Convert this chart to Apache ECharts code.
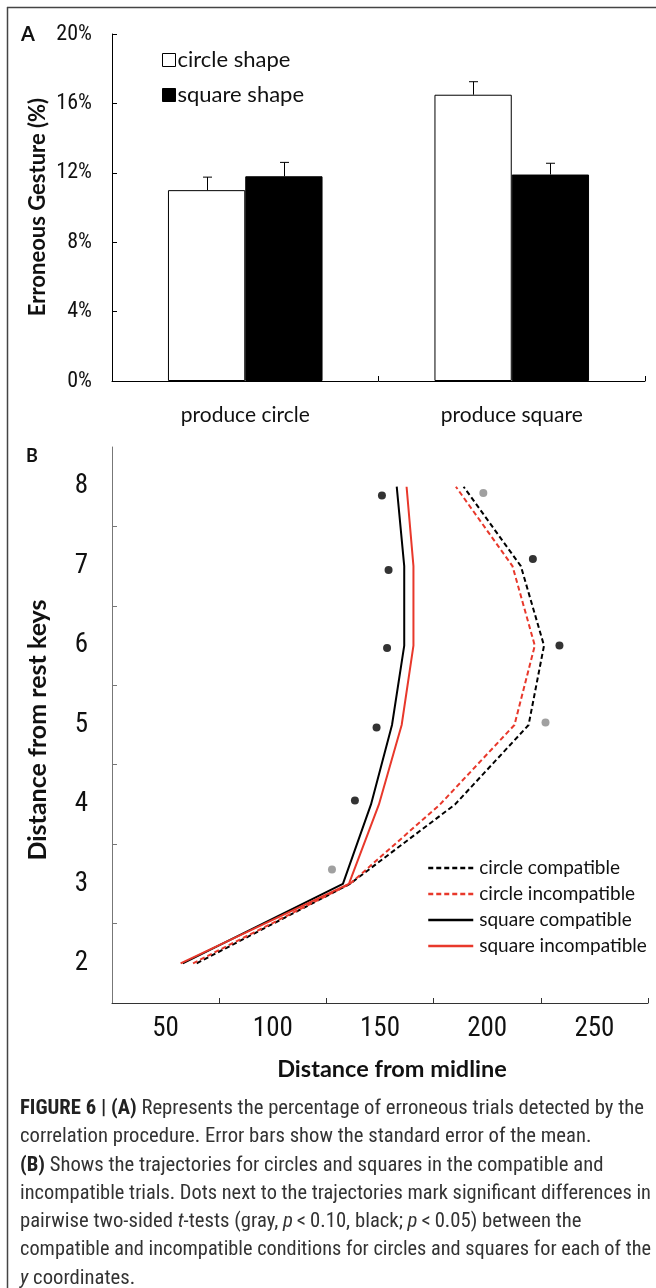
<!DOCTYPE html>
<html><head><meta charset="utf-8">
<script src="https://cdn.jsdelivr.net/npm/echarts@6/dist/echarts.min.js"></script>
<style>
html,body{margin:0;padding:0;background:#fff;}
#chart{position:absolute;left:0;top:0;width:656px;height:1288px;}
#caption{position:absolute;left:20px;top:1093px;font-family:"Roboto Condensed",Roboto,sans-serif;font-size:20px;line-height:28.3px;color:#333;white-space:nowrap;}
#caption b{color:#222;}
#caption span.ln{display:block;transform-origin:0 0;}
#caption span.ln span{display:inline-block;}
</style></head><body>
<div id="chart"></div>
<div id="caption"><span class="ln"><span><b>FIGURE 6 | (A)</b> Represents the percentage of erroneous trials detected by the</span></span><span class="ln"><span>correlation procedure. Error bars show the standard error of the mean.</span></span><span class="ln"><span><b>(B)</b> Shows the trajectories for circles and squares in the compatible and</span></span><span class="ln"><span>incompatible trials. Dots next to the trajectories mark significant differences in</span></span><span class="ln"><span>pairwise two-sided <i>t</i>-tests (gray, <i>p</i>&thinsp;&lt;&thinsp;0.10, black; <i>p</i>&thinsp;&lt;&thinsp;0.05) between the</span></span><span class="ln"><span>compatible and incompatible conditions for circles and squares for each of the</span></span><span class="ln"><span><i>y</i> coordinates.</span></span></div>
<script>
// ---------- Panel A data ----------
const barCategories = ['produce circle', 'produce square'];
const circleShape = [11.0, 16.5];
const circleShapeSE = [0.75, 0.75];
const squareShape = [11.8, 11.9];
const squareShapeSE = [0.8, 0.65];

// ---------- Panel B data ----------
const yLevels = [2, 3, 4, 5, 6, 7, 8];
const circleCompatible   = [64.5, 136, 185, 219.3, 226.5, 215.7, 189];
const circleIncompatible = [62.8, 136, 178, 212.7, 222.2, 211.8, 185.4];
const squareCompatible   = [58, 132.7, 145.8, 155.6, 161.3, 161.3, 157.8];
const squareIncompatible = [57, 135.5, 149.5, 160.1, 165.6, 165.6, 162.4];
const dotsBlackX = [150.9, 154, 221.3, 153.3, 233.7, 148.4, 138.3];
const dotsBlackY = [7.89, 6.95, 7.09, 5.97, 6.0, 4.97, 4.05];
const dotsGrayX = [198.2, 227.2, 127.6];
const dotsGrayY = [7.92, 5.03, 3.18];
const xLabelValues = [50, 100, 150, 200, 250];
const xTickValues = [75, 125, 175, 225, 275];
const yTickValues = [2.5, 3.5, 4.5, 5.5, 6.5, 7.5];

const NARROW = '"Roboto Condensed",sans-serif';
const HUM = 'Lato,"Open Sans",sans-serif';
const RED = '#e8382b';

const chart = echarts.init(document.getElementById('chart'), null, {renderer: 'canvas'});

const pairs = (xs, ys) => xs.map((x, i) => [x, ys[i]]);
const lineData = xs => xs.map((x, i) => [x, yLevels[i]]);

const errData = [];
circleShape.forEach((v, i) => errData.push([i, v, circleShapeSE[i], -1]));
squareShape.forEach((v, i) => errData.push([i, v, squareShapeSE[i], 1]));

const option = {
  animation: false,
  backgroundColor: '#fff',
  grid: [
    {left: 112, top: 34, width: 533, height: 347},
    {left: 112, top: 447, width: 536, height: 556}
  ],
  xAxis: [
    {
      gridIndex: 0, type: 'category', data: barCategories,
      axisLine: {lineStyle: {color: '#000', width: 1}},
      axisTick: {show: true, inside: true, length: 5, lineStyle: {color: '#000'}},
      axisLabel: {margin: 24, fontSize: 21, color: '#111', fontFamily: HUM},
      splitLine: {show: false}
    },
    {
      gridIndex: 1, type: 'value', min: 25, max: 275,
      axisLine: {show: true, lineStyle: {color: '#333', width: 1}},
      axisTick: {show: true, inside: true, length: 5, customValues: xTickValues, lineStyle: {color: '#333'}},
      axisLabel: {customValues: xLabelValues, margin: 13, fontSize: 27, color: '#111', fontFamily: NARROW},
      splitLine: {show: false}
    }
  ],
  yAxis: [
    {
      gridIndex: 0, type: 'value', min: 0, max: 20, interval: 4,
      axisLine: {show: true, lineStyle: {color: '#000', width: 1}},
      axisTick: {show: true, inside: true, length: 5, lineStyle: {color: '#000'}},
      axisLabel: {formatter: '{value}%', margin: 20, fontSize: 22, color: '#111', fontFamily: NARROW},
      splitLine: {show: false}
    },
    {
      gridIndex: 1, type: 'value', min: 1.5, max: 8.5,
      axisLine: {show: true, lineStyle: {color: '#777', width: 1}},
      axisTick: {show: true, inside: true, length: 5, customValues: yTickValues, lineStyle: {color: '#777'}},
      axisLabel: {customValues: yLevels, margin: 24, fontSize: 27, color: '#111', fontFamily: NARROW},
      splitLine: {show: false}
    }
  ],
  legend: [
    {
      data: [
        {name: 'circle shape', itemStyle: {color: '#fff', borderColor: '#000', borderWidth: 1}},
        {name: 'square shape', itemStyle: {color: '#000', borderColor: '#000', borderWidth: 1}}
      ],
      orient: 'vertical', left: 157, top: 44, itemWidth: 13, itemHeight: 13, itemGap: 13,
      icon: 'rect', selectedMode: false,
      textStyle: {fontSize: 22, lineHeight: 22, fontFamily: HUM, color: '#111', padding: [0, 0, 0, -3]}
    },
    {
      data: ['circle compatible', 'circle incompatible', 'square compatible', 'square incompatible'],
      orient: 'vertical', left: 422, top: 853, itemWidth: 45, itemHeight: 12, itemGap: 6,
      selectedMode: false, itemStyle: {opacity: 0},
      lineStyle: {width: 2.5},
      textStyle: {fontSize: 19, fontFamily: HUM, color: '#111', lineHeight: 20, padding: [0, 0, 0, 1]}
    }
  ],
  series: [
    {name: 'circle shape', type: 'bar', xAxisIndex: 0, yAxisIndex: 0, data: circleShape, barWidth: '29%', barGap: '0%', itemStyle: {color: '#fff', borderColor: '#000', borderWidth: 1}},
    {name: 'square shape', type: 'bar', xAxisIndex: 0, yAxisIndex: 0, data: squareShape, barWidth: '29%', barGap: '0%', itemStyle: {color: '#000', borderColor: '#000', borderWidth: 1}},
    {
      name: 'error', type: 'custom', xAxisIndex: 0, yAxisIndex: 0, data: errData, z: 5,
      renderItem: function (params, api) {
        const cat = api.value(0), val = api.value(1), se = api.value(2), side = api.value(3);
        const base = api.coord([cat, val]);
        const top = api.coord([cat, val + se]);
        const bw = api.size([1, 0])[0] * 0.29;
        const x = Math.round(base[0] + side * bw / 2) + 0.5;
        return {type: 'group', children: [
          {type: 'line', shape: {x1: x, y1: base[1], x2: x, y2: top[1]}, style: {stroke: '#000', lineWidth: 1}},
          {type: 'line', shape: {x1: x - 4.5, y1: top[1], x2: x + 4.5, y2: top[1]}, style: {stroke: '#000', lineWidth: 1}}
        ]};
      }
    },
    {name: 'circle compatible', type: 'line', xAxisIndex: 1, yAxisIndex: 1, data: lineData(circleCompatible), symbol: 'none', itemStyle: {color: '#000'}, lineStyle: {color: '#000', width: 2, type: [5, 3]}},
    {name: 'circle incompatible', type: 'line', xAxisIndex: 1, yAxisIndex: 1, data: lineData(circleIncompatible), symbol: 'none', itemStyle: {color: RED}, lineStyle: {color: RED, width: 2, type: [5, 3]}},
    {name: 'square compatible', type: 'line', xAxisIndex: 1, yAxisIndex: 1, data: lineData(squareCompatible), symbol: 'none', itemStyle: {color: '#000'}, lineStyle: {color: '#000', width: 2}},
    {name: 'square incompatible', type: 'line', xAxisIndex: 1, yAxisIndex: 1, data: lineData(squareIncompatible), symbol: 'none', itemStyle: {color: RED}, lineStyle: {color: RED, width: 2}},
    {name: 'p<0.05', type: 'scatter', xAxisIndex: 1, yAxisIndex: 1, data: pairs(dotsBlackX, dotsBlackY), symbolSize: 8, itemStyle: {color: '#000'}},
    {name: 'p<0.10', type: 'scatter', xAxisIndex: 1, yAxisIndex: 1, data: pairs(dotsGrayX, dotsGrayY), symbolSize: 8, itemStyle: {color: '#888'}}
  ],
  graphic: [
    {type: 'line', shape: {x1: 7, y1: 7.5, x2: 656, y2: 7.5}, style: {stroke: '#444', lineWidth: 1.5}},
    {type: 'line', shape: {x1: 7.5, y1: 7, x2: 7.5, y2: 1288}, style: {stroke: '#444', lineWidth: 1.5}},
    {type: 'text', x: 28, y: 35, style: {text: 'A', font: 'bold 20px ' + HUM, fill: '#111', align: 'center', verticalAlign: 'middle'}},
    {type: 'text', x: 32, y: 456, style: {text: 'B', font: 'bold 18px ' + HUM, fill: '#111', align: 'center', verticalAlign: 'middle'}},
    {type: 'text', x: 38, y: 207, rotation: Math.PI / 2, style: {text: 'Erroneous Gesture (%)', font: 'bold 22px ' + HUM, fill: '#111', align: 'center', verticalAlign: 'middle'}},
    {type: 'text', x: 38, y: 730, rotation: Math.PI / 2, style: {text: 'Distance from rest keys', font: 'bold 25px ' + HUM, fill: '#111', align: 'center', verticalAlign: 'middle'}},
    {type: 'text', x: 392, y: 1069, style: {text: 'Distance from midline', font: 'bold 23.5px ' + HUM, fill: '#111', align: 'center', verticalAlign: 'middle'}}
  ]
};
chart.setOption(option);

// fit caption to the reference: first line spans ~624px; no line may pass ~631px
const lines = Array.from(document.querySelectorAll('#caption span.ln'));
const widths = lines.map(l => l.firstChild.getBoundingClientRect().width);
const common = 624 / widths[0];
lines.forEach((l, i) => {
  const s = Math.min(common, 631 / widths[i]);
  l.style.transform = 'scaleX(' + s + ')';
});
</script>
</body></html>
